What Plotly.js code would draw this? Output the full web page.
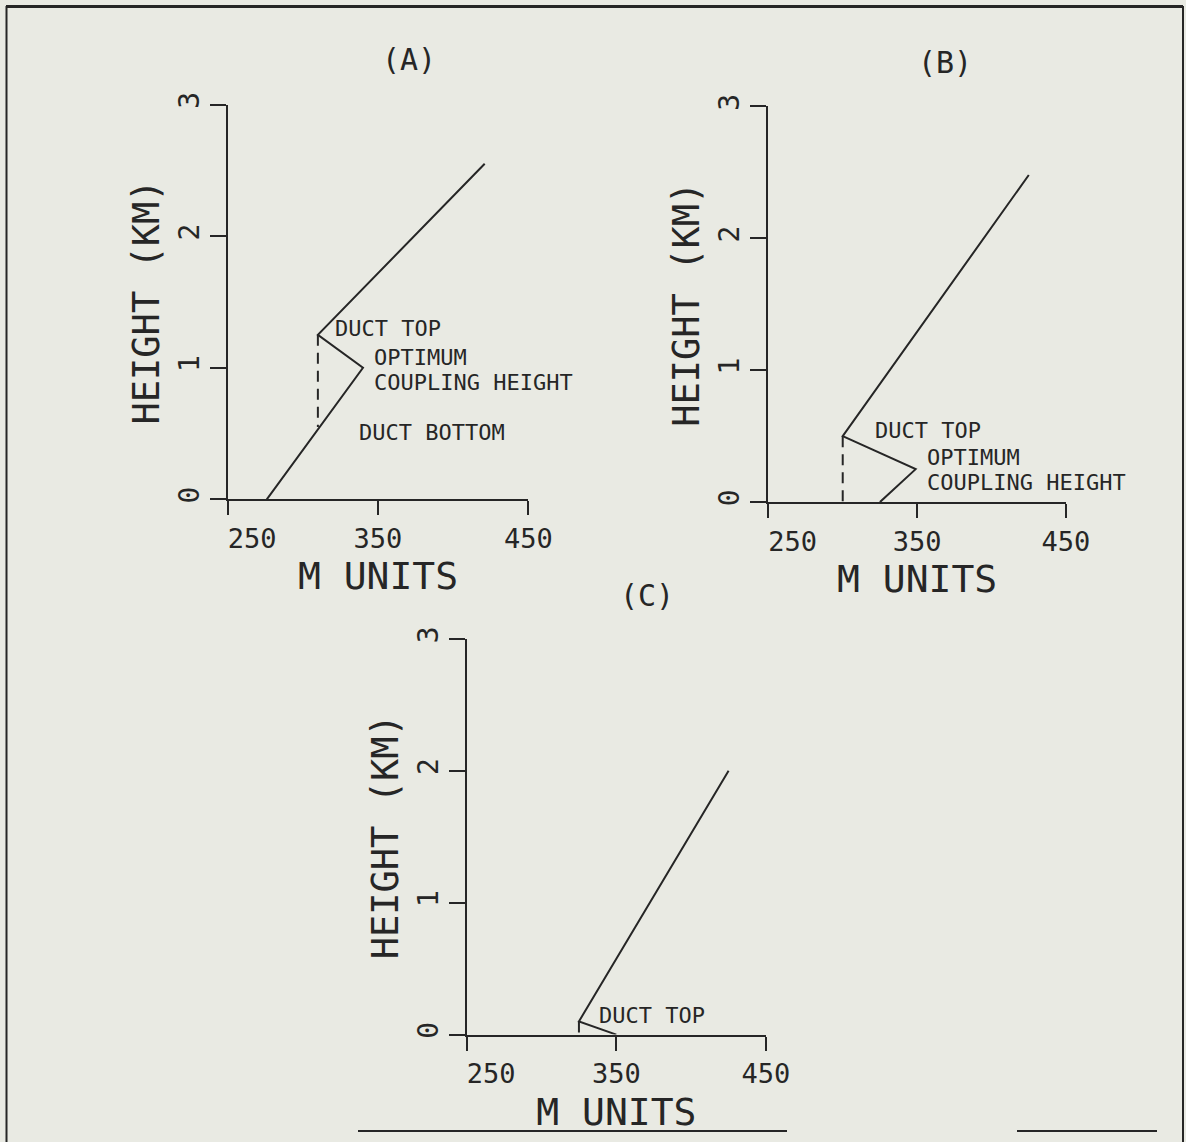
<!DOCTYPE html>
<html>
<head>
<meta charset="utf-8">
<script src="https://cdn.plot.ly/plotly-3.0.1.min.js"></script>
<style>html,body{margin:0;padding:0;background:#e9eae3;}#chart{width:1186px;height:1142px;}</style>
</head>
<body>
<div id="chart"></div>
<script>
// ---- data ----
const panelA_m = [276, 340, 310, 421];
const panelA_h = [0, 1.0, 1.25, 2.55];
const panelA_dash_m = [310, 310];
const panelA_dash_h = [1.25, 0.55];

const panelB_m = [325, 349, 300, 425];
const panelB_h = [0, 0.25, 0.5, 2.48];
const panelB_dash_m = [300, 300];
const panelB_dash_h = [0.5, 0];

const panelC_m = [350, 325, 425];
const panelC_h = [0, 0.1, 2.0];
const panelC_dash_m = [325, 325];
const panelC_dash_h = [0.1, 0];

const xTickVals = [250, 350, 450];
const xTickText = ['\u00a0\u00a0\u00a0250', '350', '450'];
const yTickVals = [0, 1, 2, 3];
const yTickText = ['0', '1', '2', '3'];
const panelTitles = ['(A)', '(B)', '(C)'];
const xTitle = 'M UNITS';
const yTitle = 'HEIGHT (KM)';

// ---- styling ----
const ink = '#262626';
const mono = 'DejaVu Sans Mono, Liberation Mono, monospace';

function solid(x, y, xa, ya) {
  return {x: x, y: y, xaxis: xa, yaxis: ya, mode: 'lines', type: 'scatter',
          line: {color: ink, width: 2}, hoverinfo: 'skip', showlegend: false};
}
function dashed(x, y, xa, ya) {
  return {x: x, y: y, xaxis: xa, yaxis: ya, mode: 'lines', type: 'scatter',
          line: {color: ink, width: 2, dash: '11px,7px'}, hoverinfo: 'skip', showlegend: false};
}

const traces = [
  solid(panelA_m, panelA_h, 'x', 'y'),
  dashed(panelA_dash_m, panelA_dash_h, 'x', 'y'),
  solid(panelB_m, panelB_h, 'x2', 'y2'),
  dashed(panelB_dash_m, panelB_dash_h, 'x2', 'y2'),
  solid(panelC_m, panelC_h, 'x3', 'y3'),
  dashed(panelC_dash_m, panelC_dash_h, 'x3', 'y3')
];

function xAxis(domain, anchor) {
  return {
    domain: domain, anchor: anchor, range: [250, 450],
    tickmode: 'array', tickvals: xTickVals, ticktext: xTickText,
    ticks: 'outside', ticklen: 14, tickwidth: 2, tickcolor: ink,
    showline: true, linewidth: 2, linecolor: ink, showgrid: false, zeroline: false,
    tickfont: {family: mono, size: 27, color: ink},
    title: {text: xTitle, font: {family: mono, size: 38, color: ink}, standoff: 10},
    automargin: false, fixedrange: true
  };
}
function yAxis(domain, anchor) {
  return {
    domain: domain, anchor: anchor, range: [0, 3],
    tickmode: 'array', tickvals: yTickVals, ticktext: yTickText, tickangle: -90,
    ticks: 'outside', ticklen: 16, tickwidth: 2, tickcolor: ink,
    showline: true, linewidth: 2, linecolor: ink, showgrid: false, zeroline: false,
    tickfont: {family: mono, size: 28, color: ink},
    title: {text: yTitle, font: {family: mono, size: 37, color: ink}, standoff: 2},
    automargin: false, fixedrange: true
  };
}

const W = 1186, H = 1142;
const px = v => v / W;
const py = v => 1 - v / H;

function lbl(text, x, y, xr, yr) {
  return {text: text, x: x, y: y, xref: xr, yref: yr, xanchor: 'left', yanchor: 'middle',
          showarrow: false, font: {family: mono, size: 22, color: ink}};
}
function ttl(text, x, y) {
  return {text: text, x: px(x), y: py(y), xref: 'paper', yref: 'paper', xanchor: 'center', yanchor: 'middle',
          showarrow: false, font: {family: mono, size: 30, color: ink}};
}
function hline(x0, x1, y, w) {
  return {type: 'line', xref: 'paper', yref: 'paper', x0: px(x0), x1: px(x1), y0: py(y), y1: py(y),
          line: {color: ink, width: w}};
}
function vline(x, y0, y1, w) {
  return {type: 'line', xref: 'paper', yref: 'paper', x0: px(x), x1: px(x), y0: py(y0), y1: py(y1),
          line: {color: ink, width: w}};
}

const layout = {
  width: W, height: H,
  margin: {l: 0, r: 0, t: 0, b: 0},
  paper_bgcolor: '#e9eae3', plot_bgcolor: 'rgba(0,0,0,0)',
  showlegend: false,
  xaxis: xAxis([px(227.7), px(528.3)], 'y'),
  yaxis: yAxis([py(499.3), py(104.6)], 'x'),
  xaxis2: xAxis([px(768.3), px(1066)], 'y2'),
  yaxis2: yAxis([py(502.1), py(106.4)], 'x2'),
  xaxis3: xAxis([px(466.7), px(766)], 'y3'),
  yaxis3: yAxis([py(1034.6), py(638.9)], 'x3'),
  annotations: [
    ttl(panelTitles[0], 408.5, 59),
    ttl(panelTitles[1], 945.5, 62),
    ttl(panelTitles[2], 646.7, 595),
    lbl('DUCT TOP', 320.3, 1.296, 'x', 'y'),
    lbl('OPTIMUM', 345.8, 1.08, 'x', 'y'),
    lbl('COUPLING HEIGHT', 345.8, 0.89, 'x', 'y'),
    lbl('DUCT BOTTOM', 335.8, 0.505, 'x', 'y'),
    lbl('DUCT TOP', 320.1, 0.541, 'x2', 'y2'),
    lbl('OPTIMUM', 355.3, 0.335, 'x2', 'y2'),
    lbl('COUPLING HEIGHT', 355.3, 0.146, 'x2', 'y2'),
    lbl('DUCT TOP', 337.3, 0.143, 'x3', 'y3')
  ],
  shapes: [
    hline(6, 1183, 6.5, 3),
    vline(6.5, 6, 1142, 2),
    vline(1183, 6, 1142, 2),
    hline(358, 787, 1131, 2),
    hline(1017, 1157, 1131, 2)
  ]
};

Plotly.newPlot('chart', traces, layout, {staticPlot: true, displayModeBar: false});
</script>
</body>
</html>
